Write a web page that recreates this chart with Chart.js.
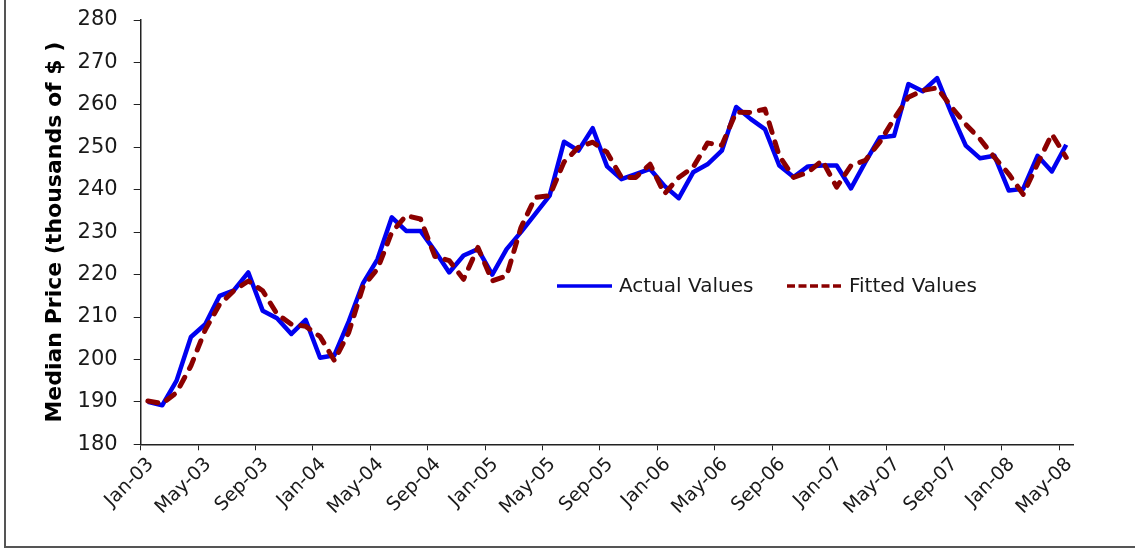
<!DOCTYPE html>
<html>
<head>
<meta charset="utf-8">
<script src="https://cdn.jsdelivr.net/npm/chart.js@4.4.1/dist/chart.umd.min.js"></script>
<style>
  html, body { margin: 0; padding: 0; background: #fff; }
  #wrap { position: relative; width: 1135px; height: 550px; }
  #frame { position: absolute; left: 4px; top: 0; right: 0; bottom: 2px; border-left: 2px solid #555; border-bottom: 2px solid #555; pointer-events: none; }
</style>
</head>
<body>
<div id="wrap">
  <canvas id="priceChart" width="1135" height="550"></canvas>
  <div id="frame"></div>
</div>
<script>
// Monthly median sale price, thousands of dollars
const months = [
  'Jan-03','Feb-03','Mar-03','Apr-03','May-03','Jun-03','Jul-03','Aug-03','Sep-03','Oct-03','Nov-03','Dec-03',
  'Jan-04','Feb-04','Mar-04','Apr-04','May-04','Jun-04','Jul-04','Aug-04','Sep-04','Oct-04','Nov-04','Dec-04',
  'Jan-05','Feb-05','Mar-05','Apr-05','May-05','Jun-05','Jul-05','Aug-05','Sep-05','Oct-05','Nov-05','Dec-05',
  'Jan-06','Feb-06','Mar-06','Apr-06','May-06','Jun-06','Jul-06','Aug-06','Sep-06','Oct-06','Nov-06','Dec-06',
  'Jan-07','Feb-07','Mar-07','Apr-07','May-07','Jun-07','Jul-07','Aug-07','Sep-07','Oct-07','Nov-07','Dec-07',
  'Jan-08','Feb-08','Mar-08','Apr-08','May-08'
];

const actual = [
  190.0, 189.2, 195.0, 205.3, 208.3, 215.0, 216.3, 220.5, 211.5, 209.7, 206.0, 209.3,
  200.4, 201.0, 209.0, 218.0, 223.6, 233.5, 230.3, 230.3, 225.6, 220.5, 224.5, 226.0,
  220.0, 226.0, 230.0, 234.3, 238.6, 251.3, 249.2, 254.5, 245.5, 242.5, 243.7, 244.9,
  240.9, 238.0, 244.1, 246.0, 249.2, 259.5, 256.7, 254.3, 245.7, 243.0, 245.5, 245.7,
  245.7, 240.3, 246.5, 252.3, 252.7, 264.9, 263.2, 266.3, 258.0, 250.4, 247.4, 248.0,
  239.8, 240.2, 248.0, 244.3, 250.6
];

const fitted = [
  190.2, 189.6, 192.2, 198.5, 207.0, 213.0, 216.2, 218.5, 216.2, 210.7, 208.3, 207.8,
  205.4, 199.7, 206.4, 217.2, 221.3, 230.0, 233.9, 233.1, 224.3, 223.3, 218.9, 226.4,
  218.5, 219.7, 231.1, 238.2, 238.6, 246.5, 250.0, 251.2, 248.8, 242.9, 242.9, 246.0,
  239.0, 242.9, 245.3, 251.0, 250.5, 258.3, 258.2, 259.0, 248.0, 242.9, 244.1, 246.9,
  240.6, 245.7, 246.9, 251.2, 256.7, 261.8, 263.4, 264.0, 259.5, 255.4, 251.9, 247.6,
  243.7, 238.9, 246.1, 253.1, 247.6
];

// only every fourth month gets a tick and a label
const shownMonths = [
  'Jan-03','May-03','Sep-03','Jan-04','May-04','Sep-04','Jan-05','May-05','Sep-05',
  'Jan-06','May-06','Sep-06','Jan-07','May-07','Sep-07','Jan-08','May-08'
];

const axisColor = '#222';
const textColor = '#1a1a1a';

// legend drawn inside the plot, in the middle right
const insideLegend = {
  id: 'insideLegend',
  afterDatasetsDraw(chart, args, opts) {
    const { ctx } = chart;
    ctx.save();
    ctx.font = '20px "DejaVu Sans"';
    ctx.textBaseline = 'middle';
    chart.data.datasets.forEach((ds, i) => {
      const x = opts.x[i];
      const y = opts.y;
      ctx.beginPath();
      ctx.strokeStyle = ds.borderColor;
      ctx.lineWidth = 3.5;
      ctx.setLineDash(ds.borderDash ? [8, 3.5] : []);
      ctx.moveTo(x, y);
      ctx.lineTo(x + 55, y);
      ctx.stroke();
      ctx.setLineDash([]);
      ctx.fillStyle = textColor;
      ctx.fillText(ds.label, x + 62, y + 1);
    });
    ctx.restore();
  }
};

const ctx = document.getElementById('priceChart');
new Chart(ctx, {
  type: 'line',
  data: {
    labels: months,
    datasets: [
      { label: 'Actual Values', data: actual, borderColor: '#0000f0', borderWidth: 4.5,
        pointRadius: 0, tension: 0, borderJoinStyle: 'round', order: 1 },
      { label: 'Fitted Values', data: fitted, borderColor: '#8b0000', borderWidth: 5,
        borderDash: [10, 10], borderCapStyle: 'round', borderJoinStyle: 'round',
        pointRadius: 0, tension: 0, order: 0 }
    ]
  },
  options: {
    responsive: false,
    animation: false,
    layout: { padding: { left: 42, right: 61.6, top: 20, bottom: 0 } },
    plugins: {
      legend: { display: false },
      tooltip: { enabled: false },
      insideLegend: { x: [557, 787], y: 286 }
    },
    scales: {
      x: {
        offset: true,
        grid: {
          offset: true,
          drawOnChartArea: false,
          tickLength: 6,
          tickColor: c => shownMonths.includes(months[c.index]) ? axisColor : 'rgba(0,0,0,0)'
        },
        border: { color: axisColor, width: 1.5 },
        ticks: {
          autoSkip: false,
          maxRotation: 45,
          minRotation: 45,
          padding: 3,
          labelOffset: 3,
          color: textColor,
          font: { family: 'DejaVu Sans', size: 19 },
          callback: (v, i) => shownMonths.includes(months[i]) ? months[i] : ''
        },
        afterFit: s => { s.height = 105.7; }
      },
      y: {
        min: 180,
        max: 280,
        ticks: {
          stepSize: 10,
          padding: 16,
          color: textColor,
          font: { family: 'DejaVu Sans', size: 21 }
        },
        grid: { drawOnChartArea: false, tickLength: 7, color: axisColor },
        border: { color: axisColor, width: 1.5 },
        title: {
          display: true,
          text: 'Median Price (thousands of $ )',
          color: '#000',
          padding: 0,
          font: { family: 'DejaVu Sans', size: 22, weight: 'bold' }
        },
        afterFit: s => {
          s.width = 98.7;
          // keep the tick padding from pushing the plot top down
          s.paddingTop = 0;
          s.paddingBottom = 0;
        }
      }
    }
  },
  plugins: [insideLegend]
});
</script>
</body>
</html>
